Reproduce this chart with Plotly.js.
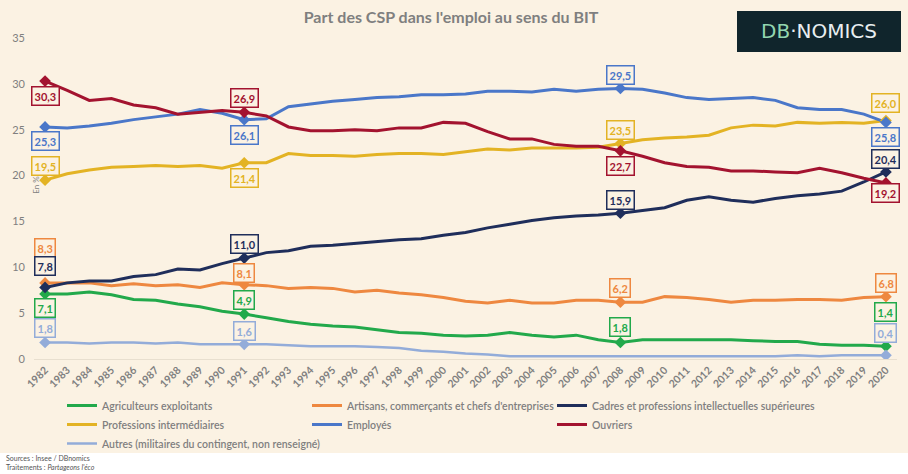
<!DOCTYPE html>
<html><head><meta charset="utf-8">
<script src="https://cdn.plot.ly/plotly-3.0.1.min.js"></script>
<style>html,body{margin:0;padding:0;background:#fff}#chart{width:908px;height:474px}</style>
</head><body><div id="chart"></div>
<script>
// ---- DATA ----
const years = [1982,1983,1984,1985,1986,1987,1988,1989,1990,1991,1992,1993,1994,1995,1996,1997,1998,1999,2000,2001,2002,2003,2004,2005,2006,2007,2008,2009,2010,2011,2012,2013,2014,2015,2016,2017,2018,2019,2020];
const seriesNames = ["Agriculteurs exploitants","Artisans, commerçants et chefs d'entreprises","Cadres et professions intellectuelles supérieures","Professions intermédiaires","Employés","Ouvriers","Autres (militaires du contingent, non renseigné)"];
const agriculteurs = [7.1,7.1,7.3,7.0,6.5,6.4,6.0,5.7,5.2,4.9, 4.5,4.1,3.8,3.6,3.5,3.2,2.9,2.8,2.6,2.5, 2.6,2.9,2.6,2.4,2.6,2.1,1.8,2.1,2.1,2.1, 2.1,2.1,2.0,1.9,1.9,1.6,1.5,1.5,1.4];
const artisans = [8.3,8.3,8.3,8.0,8.2,8.0,8.1,7.8,8.3,8.1, 8.0,7.7,7.8,7.7,7.3,7.5,7.2,7.0,6.7,6.3, 6.1,6.4,6.1,6.1,6.4,6.4,6.2,6.2,6.8,6.7, 6.5,6.2,6.4,6.4,6.5,6.5,6.4,6.7,6.8];
const cadres = [7.8,8.3,8.5,8.5,9.0,9.2,9.8,9.7,10.4,11.0, 11.6,11.8,12.3,12.4,12.6,12.8,13.0,13.1,13.5,13.8, 14.3,14.7,15.1,15.4,15.6,15.7,15.9,16.2,16.5,17.3, 17.7,17.3,17.1,17.5,17.8,18.0,18.3,19.3,20.4];
const profInter = [19.5,20.2,20.6,20.9,21.0,21.1,21.0,21.1,20.8,21.4, 21.4,22.4,22.2,22.2,22.1,22.3,22.4,22.4,22.3,22.6, 22.9,22.8,23.0,23.0,23.0,23.1,23.5,23.9,24.1,24.2, 24.4,25.2,25.5,25.4,25.8,25.7,25.8,25.7,26.0];
const employes = [25.3,25.2,25.4,25.7,26.1,26.4,26.7,27.2,26.8,26.1, 26.2,27.5,27.8,28.1,28.3,28.5,28.6,28.8,28.8,28.9, 29.2,29.2,29.1,29.4,29.2,29.4,29.5,29.4,29.0,28.5, 28.3,28.4,28.5,28.2,27.4,27.2,27.2,26.7,25.8];
const ouvriers = [30.3,29.3,28.2,28.4,27.7,27.4,26.7,26.9,27.1,26.9, 26.5,25.3,24.9,24.9,25.0,24.9,25.2,25.2,25.8,25.7, 24.8,24.0,24.0,23.4,23.2,23.2,22.7,22.1,21.4,21.0, 20.9,20.5,20.5,20.4,20.3,20.8,20.3,19.7,19.2];
const autres = [1.8,1.8,1.7,1.8,1.8,1.7,1.8,1.6,1.6,1.6, 1.6,1.5,1.4,1.4,1.4,1.3,1.2,0.9,0.8,0.6, 0.5,0.3,0.3,0.3,0.3,0.3,0.3,0.3,0.3,0.3, 0.3,0.3,0.3,0.3,0.4,0.3,0.4,0.4,0.4];
const labeledYears = [[1982,1991,2008,2020],[1982,1991,2008,2020],[1982,1991,2008,2020],[1982,1991,2008,2020],[1982,1991,2008,2020],[1982,1991,2008,2020],[1982,1991,2020]];
const yTicks = [0,5,10,15,20,25,30,35];

// ---- STYLE ----
const allSeries = [agriculteurs, artisans, cadres, profInter, employes, ouvriers, autres];
const colors = ["#22a94b","#ee8840","#1f2e5b","#e3b324","#4a77c9","#a3132f","#93acd9"];
const widths = [3,3,3,3,3,3,2.5];
// legend column of each series (three columns, as in the original)
const legendCol = ['legend','legend2','legend3','legend','legend2','legend3','legend'];
// vertical offset (px) of each value label, per series, per labeled year
const labelShift = [[-14,14,15,34],[35,12,14,14],[21,14,13,13],[14,-15,13,18],[-14,-15,13,-15],[-15,14,-15,-10],[14,13,22]];

const W=908,H=474,M={l:34,r:11,t:38,b:115};
const pw=W-M.l-M.r, ph=H-M.t-M.b;
const PX=p=>(p-M.l)/pw, PY=p=>(H-M.b-p)/ph;
const cream="#fbf2e3", gray="#7f7f7f";

const traces = [];
allSeries.forEach((vals,i)=>{
  traces.push({type:'scatter', mode:'lines', name:seriesNames[i], x:years, y:vals, legend:legendCol[i],
    line:{color:colors[i], width:widths[i]}, hoverinfo:'x+y'});
});
allSeries.forEach((vals,i)=>{
  traces.push({type:'scatter', mode:'markers', showlegend:false, x:labeledYears[i], y:labeledYears[i].map(yr=>vals[years.indexOf(yr)]),
    marker:{symbol:'diamond', size:9, color:colors[i]}, hoverinfo:'x+y'});
});

const fmt=v=>v.toFixed(1).replace('.',',');
const annotations=[];
allSeries.forEach((vals,i)=>{
  labeledYears[i].forEach((yr,k)=>{
    const v=vals[years.indexOf(yr)];
    annotations.push({x:yr,y:v,xref:'x',yref:'y',text:fmt(v),showarrow:false,yshift:labelShift[i][k],
      font:{family:'Lato',size:11,weight:700,color:colors[i]},bgcolor:cream,bordercolor:colors[i],borderwidth:1.5,borderpad:2});
  });
});
annotations.push({xref:'paper',yref:'y',x:PX(29),y:19,text:'En %',textangle:-90,showarrow:false,font:{family:'Lato',size:8,color:gray}});
annotations.push({xref:'paper',yref:'paper',x:PX(819),y:PY(31),text:'<span style="color:#93d6b0">DB</span>·NOMICS',showarrow:false,xanchor:'center',yanchor:'middle',font:{family:'DejaVu Sans',size:20,color:'#e8eef0'}});
annotations.push({xref:'paper',yref:'paper',x:PX(4),y:PY(458),text:'Sources : Insee / DBnomics',showarrow:false,xanchor:'left',yanchor:'middle',font:{family:'Lato',size:7,color:'#555'}});
annotations.push({xref:'paper',yref:'paper',x:PX(4),y:PY(467),text:"Traitements : <i>Partageons l'éco</i>",showarrow:false,xanchor:'left',yanchor:'middle',font:{family:'Lato',size:7,color:'#555'}});

const shapes=[
  {type:'rect',xref:'paper',yref:'paper',x0:PX(0),x1:PX(W),y0:PY(453),y1:PY(H+2),fillcolor:'#ffffff',line:{width:0},layer:'below'},
  {type:'rect',xref:'paper',yref:'paper',x0:PX(737),x1:PX(901),y0:PY(52),y1:PY(11),fillcolor:'#10252c',line:{width:0},layer:'above'}
];

const legBase = {orientation:'v',xanchor:'left',yanchor:'top',y:PY(391),tracegroupgap:0,
  font:{family:'Lato',size:10.5,weight:600,color:gray},bgcolor:'rgba(0,0,0,0)',itemclick:false,itemdoubleclick:false};

const layout={
  width:W,height:H,margin:M,paper_bgcolor:cream,plot_bgcolor:cream,
  font:{family:'Lato',color:gray},
  title:{text:"Part des CSP dans l'emploi au sens du BIT",x:451/W,xanchor:'center',y:1-17/H,yanchor:'middle',yref:'container',
    font:{family:'Lato',size:16,weight:700,color:gray}},
  xaxis:{range:[1981.5,2020.5],tickmode:'array',tickvals:years,ticktext:years.map(String),tickangle:-45,
    tickfont:{family:'Lato',size:10.5,weight:700,color:gray},showgrid:false,zeroline:false,showline:true,linecolor:'#e8dfcf',linewidth:1,ticks:''},
  yaxis:{range:[0,35],tickvals:yTicks,showgrid:false,zeroline:false,ticks:'',ticklabelstandoff:8,
    tickfont:{family:'Lato',size:11,color:gray}},
  legend:Object.assign({},legBase,{x:PX(62)}),
  legend2:Object.assign({},legBase,{x:PX(307)}),
  legend3:Object.assign({},legBase,{x:PX(552)}),
  annotations,shapes,showlegend:true
};
Plotly.newPlot('chart',traces,layout,{displayModeBar:false,staticPlot:true});
</script></body></html>
